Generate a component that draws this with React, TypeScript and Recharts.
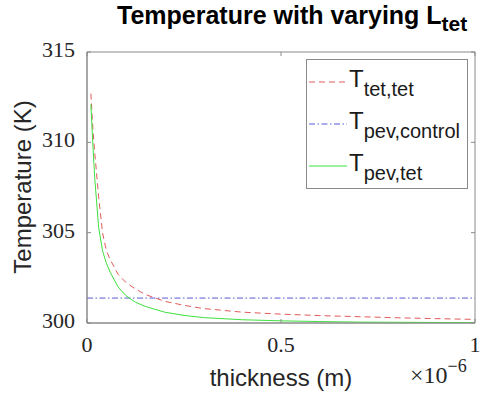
import React from "react";
import { LineChart, Line, XAxis, YAxis, Label, ReferenceArea } from "recharts";

// thickness in units of 1e-6 m
const thickness = [
  0.01, 0.015, 0.02, 0.03, 0.04, 0.05, 0.06, 0.08, 0.1, 0.125, 0.15, 0.2, 0.25,
  0.3, 0.4, 0.5, 0.6, 0.7, 0.8, 0.9, 1.0,
];
const tTetTet = [
  312.7, 310.8, 309.4, 307.0, 305.0, 304.0, 303.5, 302.7, 302.25, 301.88,
  301.58, 301.2, 300.98, 300.8, 300.6, 300.49, 300.41, 300.35, 300.29, 300.24,
  300.2,
];
const tPevTet = [
  312.1, 309.9, 308.0, 305.3, 304.0, 303.3, 302.8, 302.0, 301.52, 301.15,
  300.92, 300.6, 300.42, 300.3, 300.18, 300.12, 300.08, 300.05, 300.04,
  300.03, 300.02,
];
const controlThickness = [0, 1];
const tPevControl = [301.38, 301.38];

const xTicks = [0, 0.5, 1];
const yTicks = [300, 305, 310, 315];

const W = 480;
const H = 393;
const PLOT_LEFT = 87;
const PLOT_TOP = 52;
const PLOT_RIGHT = 475;
const PLOT_BOTTOM = 323;

const SERIF = "'Liberation Serif', 'DejaVu Serif', serif";
const SANS = "'Liberation Sans', Arial, sans-serif";
const BOX = "#8a8a8a";

const tetData = thickness.map((x, i) => ({ x, y: tTetTet[i] }));
const pevData = thickness.map((x, i) => ({ x, y: tPevTet[i] }));
const controlData = controlThickness.map((x, i) => ({ x, y: tPevControl[i] }));

const series = [
  { key: "tet", main: "T", sub: "tet,tet", color: "#e05a5a", dash: "6 4" },
  { key: "ctrl", main: "T", sub: "pev,control", color: "#5b5bdc", dash: "6 2.5 1.5 2.5" },
  { key: "pev", main: "T", sub: "pev,tet", color: "#3fe03f", dash: undefined },
];

const XTick = (props: any) => {
  const { x, payload } = props;
  return (
    <g>
      <line x1={x} x2={x} y1={PLOT_BOTTOM} y2={PLOT_BOTTOM - 4} stroke={BOX} />
      <line x1={x} x2={x} y1={PLOT_TOP} y2={PLOT_TOP + 4} stroke={BOX} />
      <text x={x} y={PLOT_BOTTOM + 29} textAnchor="middle" fontFamily={SERIF} fontSize={22} fill="#262626">
        {payload.value}
      </text>
    </g>
  );
};

const YTick = (props: any) => {
  const { y, payload } = props;
  return (
    <g>
      <line x1={PLOT_LEFT} x2={PLOT_LEFT + 4} y1={y} y2={y} stroke={BOX} />
      <line x1={PLOT_RIGHT} x2={PLOT_RIGHT - 4} y1={y} y2={y} stroke={BOX} />
      <text x={PLOT_LEFT - 12} y={y + 5} textAnchor="end" fontFamily={SERIF} fontSize={22} fill="#262626">
        {payload.value}
      </text>
    </g>
  );
};

const LegendBox = () => (
  <div
    style={{
      position: "absolute",
      left: 306,
      top: 59,
      width: 162,
      height: 130,
      border: "1px solid #8a8a8a",
      background: "#fff",
      boxSizing: "border-box",
    }}
  >
    {series.map((s, i) => (
      <div key={s.key} style={{ position: "absolute", left: 2, top: 5 + i * 42, height: 40, width: 158 }}>
        <svg width={38} height={40} style={{ position: "absolute", left: 0, top: 0 }}>
          <line x1={0} x2={38} y1={17} y2={17} stroke={s.color} strokeWidth={1} strokeDasharray={s.dash} />
        </svg>
        <div style={{ position: "absolute", left: 40, top: 0, fontFamily: SANS, color: "#1a1a1a", whiteSpace: "nowrap", lineHeight: "28px" }}>
          <span style={{ fontSize: 24 }}>{s.main}</span>
          <span style={{ fontSize: 20, position: "relative", top: 9 }}>{s.sub}</span>
        </div>
      </div>
    ))}
  </div>
);

export default function App() {
  return (
    <div style={{ position: "absolute", left: 0, top: 0, width: W, height: H, background: "#fff" }}>
      <LineChart
        width={W}
        height={H}
        margin={{ top: PLOT_TOP, right: W - PLOT_RIGHT, bottom: 0, left: 0 }}
      >
        <XAxis
          dataKey="x"
          type="number"
          domain={[0, 1]}
          ticks={xTicks}
          allowDataOverflow
          height={H - PLOT_BOTTOM}
          axisLine={{ stroke: BOX }}
          tickLine={false}
          tick={<XTick />}
        >
          <Label
            content={() => (
              <text x={(PLOT_LEFT + PLOT_RIGHT) / 2} y={386} textAnchor="middle" fontFamily={SANS} fontSize={24} fill="#262626">
                thickness (m)
              </text>
            )}
          />
        </XAxis>
        <YAxis
          type="number"
          domain={[300, 315]}
          ticks={yTicks}
          allowDataOverflow
          width={PLOT_LEFT}
          axisLine={{ stroke: BOX }}
          tickLine={false}
          tick={<YTick />}
        >
          <Label
            content={() => (
              <text
                x={31}
                y={187}
                transform="rotate(-90, 31, 187)"
                textAnchor="middle"
                fontFamily={SANS}
                fontSize={24}
                fill="#262626"
              >
                Temperature (K)
              </text>
            )}
          />
        </YAxis>
        <ReferenceArea x1={0} x2={1} y1={300} y2={315} fill="none" stroke={BOX} strokeWidth={1} />
        <Line data={tetData} dataKey="y" stroke={series[0].color} strokeDasharray={series[0].dash} strokeWidth={1} dot={false} isAnimationActive={false} />
        <Line data={controlData} dataKey="y" stroke={series[1].color} strokeDasharray={series[1].dash} strokeWidth={1} dot={false} isAnimationActive={false} />
        <Line data={pevData} dataKey="y" stroke={series[2].color} strokeWidth={1} dot={false} isAnimationActive={false} />
      </LineChart>
      <LegendBox />
      <div
        style={{
          position: "absolute",
          left: 117,
          top: 1,
          fontFamily: SANS,
          fontWeight: "bold",
          fontSize: 25,
          color: "#000",
          whiteSpace: "nowrap",
        }}
      >
        Temperature with varying L
        <span style={{ fontSize: 21, position: "relative", top: 7 }}>tet</span>
      </div>
      <div style={{ position: "absolute", left: 410, top: 362, fontFamily: SERIF, fontSize: 24, color: "#262626", whiteSpace: "nowrap" }}>
        ×10
        <span style={{ fontSize: 18, position: "relative", top: -11 }}>−6</span>
      </div>
    </div>
  );
}
